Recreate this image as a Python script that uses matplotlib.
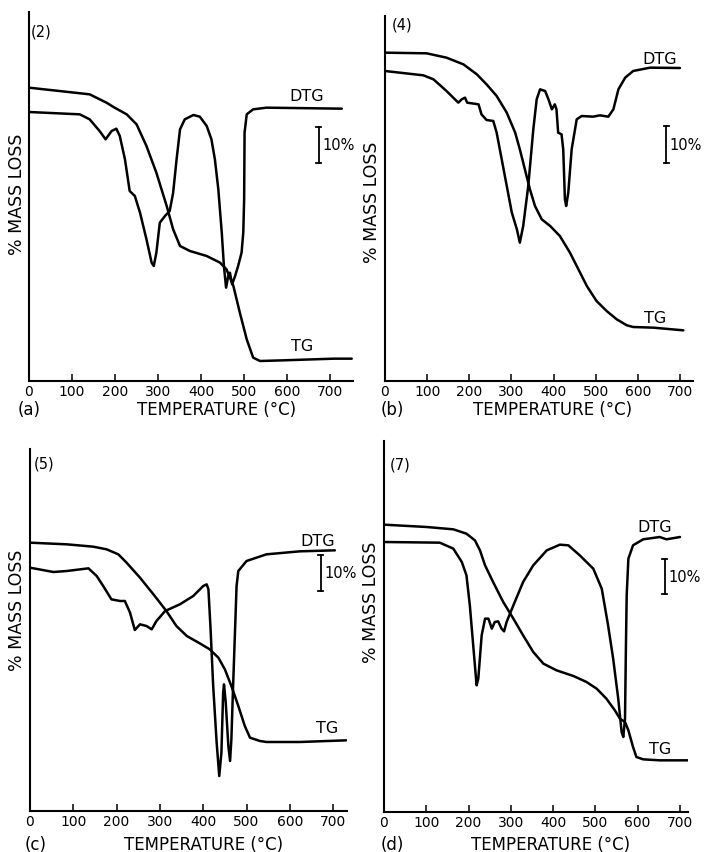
import numpy as np
import matplotlib
matplotlib.use("Agg")
import matplotlib.pyplot as plt

plt.rcParams['font.family'] = ['DejaVu Sans']

# ---------------- data (temperature in °C, signal in arbitrary units) -------------
# Panel (a) sample (2)
a_tg_t = [0, 141, 180, 199, 227, 250, 273, 296, 320, 335, 351, 374, 413, 444, 459, 475, 490, 506, 521, 537, 591, 708, 750]
a_tg_y = [880, 860, 835, 820, 800, 770, 705, 625, 525, 455, 405, 390, 375, 355, 335, 285, 205, 125, 70, 60, 62, 67, 67]
a_dtg_t = [0, 118, 141, 164, 178, 192, 203, 211, 223, 234, 246, 258, 273, 285, 290, 296, 304, 316, 327, 335, 343, 351,
           362, 382, 397, 413, 424, 432, 440, 448, 453, 458, 463, 467, 472, 479, 486, 494, 498, 500, 501, 506, 521, 552, 727]
a_dtg_y = [807, 800, 785, 750, 725, 750, 757, 735, 665, 570, 555, 505, 425, 355, 345, 385, 475, 495, 510, 565, 665, 755,
           785, 798, 793, 765, 725, 665, 575, 445, 345, 280, 315, 325, 290, 315, 345, 385, 445, 545, 745, 800, 815, 820, 817]

# Panel (b) sample (4)
b_tg_t = [0, 99, 146, 186, 218, 241, 265, 289, 309, 320, 332, 344, 356, 372, 392, 415, 439, 463, 479, 502, 526, 550, 574, 589, 637, 708]
b_tg_y = [985, 983, 970, 950, 920, 890, 855, 805, 745, 695, 635, 575, 525, 485, 465, 435, 385, 325, 285, 240, 210, 185, 167, 162, 160, 152]
b_dtg_t = [0, 91, 115, 146, 174, 182, 190, 195, 206, 222, 229, 241, 257, 265, 277, 289, 301, 313, 320, 328, 340, 352, 360,
           368, 380, 388, 396, 403, 407, 411, 419, 423, 427, 430, 435, 443, 455, 467, 494, 510, 530, 542, 554, 570, 589, 629, 700]
b_dtg_y = [930, 917, 905, 870, 835, 845, 850, 835, 833, 830, 800, 783, 780, 745, 665, 585, 505, 455, 415, 465, 585, 755, 845,
           875, 870, 845, 815, 830, 815, 745, 740, 695, 545, 525, 565, 695, 785, 795, 793, 797, 793, 815, 875, 910, 930, 940, 939]

# Panel (c) sample (5)
c_tg_t = [0, 85, 146, 177, 204, 223, 254, 285, 315, 338, 362, 392, 415, 435, 450, 465, 481, 496, 508, 531, 546, 623, 730]
c_tg_y = [805, 800, 793, 785, 770, 745, 700, 650, 600, 555, 525, 503, 485, 460, 425, 375, 315, 255, 220, 210, 207, 207, 212]
c_dtg_t = [0, 54, 85, 135, 154, 169, 188, 208, 219, 231, 242, 254, 269, 281, 292, 312, 346, 377, 400, 408, 412, 417, 423,
           431, 437, 442, 446, 448, 452, 458, 462, 465, 469, 477, 481, 500, 546, 623, 704]
c_dtg_y = [730, 717, 720, 728, 705, 675, 635, 630, 630, 595, 543, 560, 555, 545, 570, 600, 620, 645, 675, 680, 665, 545, 375,
           205, 105, 175, 355, 380, 325, 195, 150, 215, 375, 675, 720, 750, 770, 779, 782]

# Panel (d) sample (7)
d_tg_t = [0, 101, 164, 195, 215, 227, 239, 258, 282, 306, 329, 353, 377, 408, 448, 479, 503, 526, 546, 558, 570, 578, 589, 597, 613, 652, 718]
d_tg_y = [862, 855, 848, 835, 815, 785, 740, 690, 630, 580, 530, 480, 445, 425, 408, 390, 370, 340, 305, 280, 270, 245, 195, 165, 158, 155, 155]
d_dtg_t = [0, 132, 164, 184, 195, 203, 211, 219, 223, 231, 239, 247, 255, 262, 270, 278, 284, 290, 306, 329, 353, 385, 416,
           436, 463, 495, 515, 530, 542, 554, 562, 566, 570, 572, 574, 578, 589, 613, 652, 668, 700]
d_dtg_y = [810, 808, 790, 750, 710, 620, 500, 380, 400, 530, 580, 580, 550, 570, 572, 550, 542, 570, 620, 690, 740, 785, 802,
           800, 770, 730, 670, 560, 460, 340, 240, 225, 280, 480, 650, 760, 800, 818, 825, 818, 825]

panel_ids = ["(2)", "(4)", "(5)", "(7)"]
panel_letters = ["(a)", "(b)", "(c)", "(d)"]
tick_values = [0, 100, 200, 300, 400, 500, 600, 700]
scale_label = "10%"
xlabel_text = "TEMPERATURE (\u00b0C)"
ylabel_text = "% MASS LOSS"

# ---------------- layout ----------------
W, H = 708, 853
fig = plt.figure(figsize=(W / 100, H / 100), dpi=100)
fig.patch.set_facecolor("white")

# (left, right, bottom, top) in pixels
boxes = [(29, 353, 382, 13), (385, 693, 382, 17), (30, 347, 812, 450), (384, 688, 813, 442)]
xlims = [753, 731, 732, 719]
ylims = [1107, 1095, 1086, 1113]

series = [(a_tg_t, a_tg_y, a_dtg_t, a_dtg_y), (b_tg_t, b_tg_y, b_dtg_t, b_dtg_y),
          (c_tg_t, c_tg_y, c_dtg_t, c_dtg_y), (d_tg_t, d_tg_y, d_dtg_t, d_dtg_y)]

# annotation placements (data coords)
dtg_pos = [(645, 857), (651, 967), (665, 810), (640, 855)]
tg_pos = [(634, 105), (641, 190), (685, 250), (652, 190)]
bar_pos = [(673, 655, 762), (668, 655, 765), (671, 660, 768), (664, 655, 760)]
id_pos = [(5, 1050), (16, 1070), (8, 1045), (14, 1045)]
ylabel_px = [(17, 194), (372, 202), (17, 610), (371, 602)]
xlabel_px = [(217, 410), (553, 410), (204, 845), (551, 845)]
letter_px = [(29, 410), (392, 410), (36, 845), (392, 845)]

lw = 1.8
for i in range(4):
    l, r, b, t = boxes[i]
    ax = fig.add_axes([l / W, 1 - b / H, (r - l) / W, (b - t) / H])
    tg_t, tg_y, dtg_t, dtg_y = series[i]
    ax.plot(tg_t, tg_y, color="black", lw=lw, solid_joinstyle="round", solid_capstyle="round")
    ax.plot(dtg_t, dtg_y, color="black", lw=lw, solid_joinstyle="round", solid_capstyle="round")
    ax.set_xlim(0, xlims[i])
    ax.set_ylim(0, ylims[i])
    for s in ["top", "right"]:
        ax.spines[s].set_visible(False)
    for s in ["left", "bottom"]:
        ax.spines[s].set_linewidth(1.5)
    ax.set_yticks([])
    ax.set_xticks(tick_values)
    ax.set_xticklabels([str(v) for v in tick_values], fontsize=10)
    ax.tick_params(axis="x", direction="in", length=5, width=1.1, pad=2.5)
    ax.patch.set_alpha(0)

    ax.text(*dtg_pos[i], "DTG", ha="center", va="center", fontsize=11.5)
    ax.text(*tg_pos[i], "TG", ha="center", va="center", fontsize=11.5)
    bx, by0, by1 = bar_pos[i]
    ax.plot([bx, bx], [by0, by1], color="black", lw=1.3)
    ax.plot([bx - 6, bx + 6], [by0, by0], color="black", lw=1.3)
    ax.plot([bx - 6, bx + 6], [by1, by1], color="black", lw=1.3)
    ax.text(bx + 8, (by0 + by1) / 2, scale_label, ha="left", va="center", fontsize=10.5)
    ax.text(*id_pos[i], panel_ids[i], ha="left", va="center", fontsize=10.5)

    fig.text(ylabel_px[i][0] / W, 1 - ylabel_px[i][1] / H, ylabel_text, rotation=90,
             ha="center", va="center", fontsize=12.5)
    fig.text(xlabel_px[i][0] / W, 1 - xlabel_px[i][1] / H, xlabel_text,
             ha="center", va="center", fontsize=12)
    fig.text(letter_px[i][0] / W, 1 - letter_px[i][1] / H, panel_letters[i],
             ha="center", va="center", fontsize=12)

fig.savefig("out.png", dpi=100, facecolor="white")
